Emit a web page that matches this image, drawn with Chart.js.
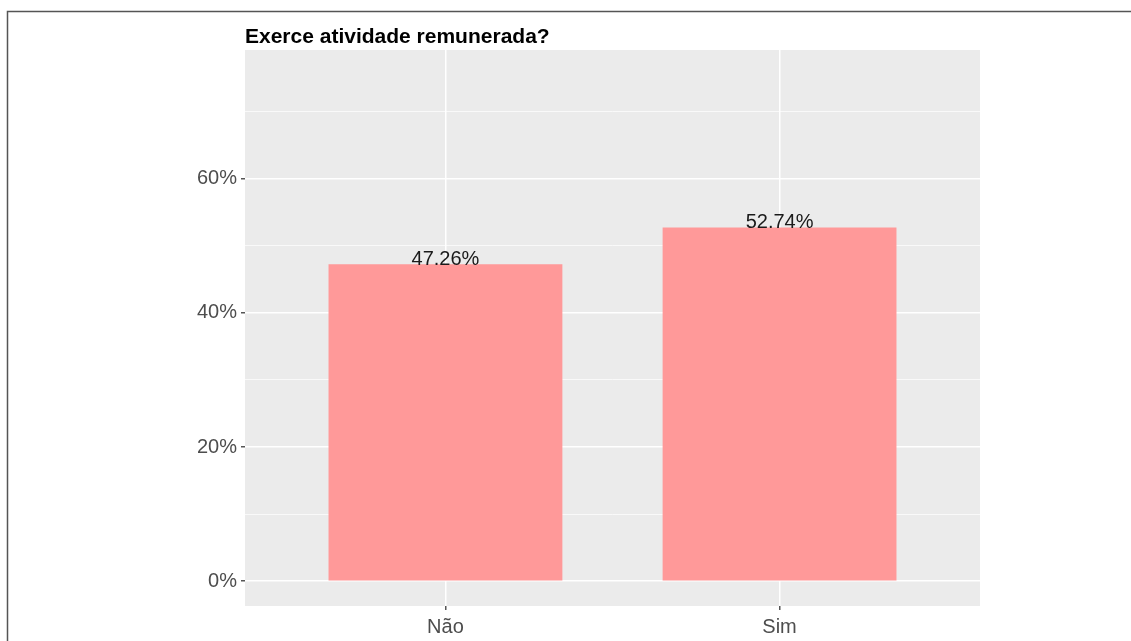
<!DOCTYPE html>
<html>
<head>
<meta charset="utf-8">
<script src="https://cdn.jsdelivr.net/npm/chart.js@4/dist/chart.umd.min.js"></script>
<style>
  html, body { margin: 0; padding: 0; background: #fff; }
  #wrap { width: 1131px; height: 641px; position: relative; }
</style>
</head>
<body>
<div id="wrap"><canvas id="grafico"></canvas></div>
<script>
const categorias = ['Não', 'Sim'];
const posicoes = [1, 2];
const percentuais = [47.26, 52.74];
const ticksY = [0, 10, 20, 30, 40, 50, 60, 70];
const titulo = 'Exerce atividade remunerada?';

const fonte = '"Liberation Sans", Arial, sans-serif';

// fundo cinza do painel + moldura + titulo + rotulos
const painelPlugin = {
    id: 'painel',
    beforeDraw(chart) {
        const { ctx, chartArea: a } = chart;
        ctx.save();
        ctx.fillStyle = '#EBEBEB';
        ctx.fillRect(a.left, a.top, a.right - a.left, a.bottom - a.top);
        ctx.restore();
    },
    afterDraw(chart) {
        const { ctx, chartArea: a } = chart;
        ctx.save();
        // moldura
        ctx.strokeStyle = '#555';
        ctx.lineWidth = 1.5;
        ctx.beginPath();
        ctx.moveTo(7.5, 641);
        ctx.lineTo(7.5, 11.5);
        ctx.lineTo(1131, 11.5);
        ctx.stroke();
        // titulo
        ctx.fillStyle = '#000';
        ctx.font = 'bold 21px ' + fonte;
        ctx.textAlign = 'left';
        ctx.textBaseline = 'alphabetic';
        ctx.fillText(titulo, a.left, 43);
        // rotulos das barras
        const xs = chart.scales.x, ys = chart.scales.y;
        ctx.font = '20px ' + fonte;
        ctx.fillStyle = '#1a1a1a';
        ctx.textAlign = 'center';
        ctx.textBaseline = 'alphabetic';
        percentuais.forEach((v, i) => {
            ctx.fillText(v.toFixed(2) + '%', xs.getPixelForValue(posicoes[i]), ys.getPixelForValue(v) + 1);
        });
        ctx.restore();
    }
};

const config = {
    type: 'bar',
    data: {
        datasets: [{
            data: posicoes.map((p, i) => ({ x: p, y: percentuais[i] })),
            backgroundColor: '#FF9999',
            categoryPercentage: 1,
            barPercentage: 0.7
        }]
    },
    options: {
        responsive: true,
        maintainAspectRatio: false,
        animation: false,
        layout: { padding: { left: 0, top: 50, right: 151, bottom: 0 } },
        plugins: { legend: { display: false }, tooltip: { enabled: false } },
        scales: {
            x: {
                type: 'linear',
                min: 0.4,
                max: 2.6,
                offset: false,
                afterBuildTicks: s => { s.ticks = posicoes.map(v => ({ value: v })); },
                afterFit: s => { s.height = 35; },
                border: { display: false },
                grid: {
                    offset: false,
                    color: '#FFFFFF',
                    lineWidth: 1.5,
                    tickColor: '#555',
                    tickLength: 4
                },
                ticks: {
                    padding: 5,
                    color: '#4D4D4D',
                    font: { family: fonte, size: 20 },
                    callback: v => categorias[posicoes.indexOf(v)] || ''
                }
            },
            y: {
                min: -3.7,
                max: 79.2,
                afterBuildTicks: s => { s.ticks = ticksY.map(v => ({ value: v })); },
                afterFit: s => { s.width = 245; },
                border: { display: false },
                grid: {
                    color: '#FFFFFF',
                    lineWidth: c => (c.tick && c.tick.value % 20 === 0) ? 1.5 : 0.7,
                    tickColor: c => (c.tick && c.tick.value % 20 === 0) ? '#555' : 'rgba(0,0,0,0)',
                    tickLength: 4
                },
                ticks: {
                    padding: 4,
                    color: '#4D4D4D',
                    font: { family: fonte, size: 20 },
                    callback: v => v % 20 === 0 ? v + '%' : ''
                }
            }
        }
    },
    plugins: [painelPlugin]
};

new Chart(document.getElementById('grafico'), config);
</script>
</body>
</html>
